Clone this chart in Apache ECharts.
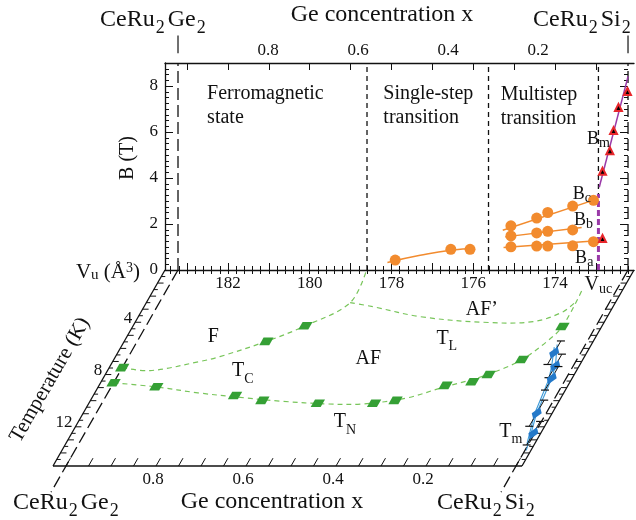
<!DOCTYPE html>
<html>
<head>
<meta charset="utf-8">
<title>CeRu2(Si1-xGex)2 phase diagram</title>
<script src="https://cdn.jsdelivr.net/npm/echarts@6.0.0/dist/echarts.min.js"></script>
<style>
html,body{margin:0;padding:0;background:#fff;}
#chart{width:636px;height:520px;}
</style>
</head>
<body>
<div id="chart"></div>
<script>
// ================= DATA =================
// axis tick labels
const vTickLabels = [174, 176, 178, 180, 182];          // unit-cell volume (Å^3)
const concTickLabels = [0.2, 0.4, 0.6, 0.8];             // Ge concentration x
const tempTickLabels = [4, 8, 12];                       // temperature (K)

// top panel : critical fields B (T) vs. unit-cell volume V (Å^3)
const singleStepPoints = [[177.91, 0.43], [176.55, 0.90], [176.08, 0.90]];
const singleStepFit    = [[178.10, 0.33], [177.30, 0.64], [176.55, 0.86], [175.96, 0.93]];
const bcPoints = [[175.08, 1.92], [174.45, 2.26], [174.18, 2.50], [173.57, 2.78], [173.06, 3.03]];
const bcFit    = [[175.28, 1.73], [173.02, 3.06]];
const bbPoints = [[175.08, 1.48], [174.45, 1.61], [174.18, 1.68], [173.57, 1.74]];
const bbFit    = [[175.22, 1.44], [173.35, 1.85]];
const baPoints = [[175.08, 1.01], [174.45, 1.04], [174.18, 1.04], [173.57, 1.05], [173.06, 1.23]];
const baFit    = [[175.26, 0.98], [172.98, 1.27]];
const bmPoints = [[172.84, 1.37], [172.84, 4.29], [172.66, 5.19], [172.57, 6.06], [172.45, 7.07], [172.23, 7.76]];
const bmFit    = [[172.92, 3.60], [172.215, 8.42]];
const vucValue = 172.94;                                  // critical volume V_uc
const vucLine  = [[172.94, 0], [172.94, 9]];
const vucJump  = [[172.94, 0], [172.94, 3.3]];
const phaseBoundsConc = [0.58, 0.31];                     // Ferro | single-step | multistep
const pureEndsConc = [1, 0];                              // CeRu2Ge2 , CeRu2Si2

// bottom panel : temperature (K) vs. Ge concentration x
const tcPoints = [[1.0, 7.47], [0.713, 5.46], [0.646, 4.27]];
const tnPoints = [[1.0, 8.63], [0.90, 8.93], [0.714, 9.60], [0.647, 9.98], [0.52, 10.2], [0.395, 10.2],
                  [0.351, 9.98], [0.259, 8.83], [0.204, 8.55], [0.177, 8.0], [0.122, 6.85], [0.074, 4.32]];
const tcCurve = [[1.0, 7.47], [0.934, 7.7], [0.835, 7.0], [0.797, 6.63], [0.713, 5.46], [0.646, 4.27], [0.576, 2.5], [0.581, 0]];
const tnCurve = [[1.0, 8.63], [0.90, 8.95], [0.80, 9.4], [0.70, 9.75], [0.60, 10.05], [0.50, 10.25], [0.42, 10.25],
                 [0.33, 9.8], [0.26, 8.95], [0.20, 8.3], [0.15, 7.5], [0.12, 6.8], [0.09, 5.5], [0.074, 4.3], [0.077, 1.4]];
const tlCurve = [[0.576, 2.5], [0.52, 2.81], [0.403, 3.57], [0.255, 4.0], [0.145, 3.95], [0.091, 3.19], [0.076, 2.4]];
const tmPoints = [[0.059, 6.33], [0.040, 7.34], [0.032, 8.29], [0.021, 10.96], [0.003, 12.49]];
const tmErrors = [0.9, 0.9, 0.9, 1.0, 0.9];
const tmLineA = [[0.063, 5.7], [0.040, 7.3], [0.032, 8.3], [0.021, 11.0], [-0.003, 13.8]];
const tmLineB = [[0.066, 5.9], [0.047, 7.4], [0.037, 8.4], [0.025, 11.0], [0.004, 13.3]];

// annotations
const topNotes = [
  ['Ferromagnetic', 182.51, 7.66], ['state', 182.51, 6.62],
  ['Single-step', 178.20, 7.68], ['transition', 178.20, 6.64],
  ['Multistep', 175.33, 7.61], ['transition', 175.33, 6.57]
];
const fieldNotes = [['B{s|m}', 173.22, 5.70], ['B{s|c}', 173.57, 3.29], ['B{s|b}', 173.54, 2.16], ['B{s|a}', 173.51, 0.50]];
const phaseNotes = [
  ['F', 0.837, 5.1], ['T{s|C}', 0.728, 7.73], ['AF', 0.465, 6.76], ['T{s|N}', 0.436, 11.65],
  ['AF\u2019', 0.274, 3.06], ['T{s|L}', 0.316, 5.23], ['T{s|m}', 0.055, 12.37]
];

// ================= LAYOUT / STYLE =================
const V_MIN = 172.07, V_MAX = 183.54;        // volume axis extent (grid edges)
const C_MIN = -0.0133, C_MAX = 1.0289;       // concentration axis extent (same grid edges)
const T_MAX = 15, B_MAX = 9;
const SLANT = 112 / 196;                     // oblique projection of the lower panel
const FONT = '"Liberation Serif", "Times New Roman", serif';
const INK = '#111';
const ORANGE = '#f28b2e', PURPLE = '#9a3aa8', GREEN_L = '#78c55a', GREEN_D = '#35a035', BLUE = '#2479c9';

const RICH_SUB = {
  s: {fontSize: 14, fontFamily: FONT, lineHeight: 14, verticalAlign: 'bottom', fill: INK}
};
const RICH_B = {
  s: {fontSize: 14, fontFamily: FONT, lineHeight: 12, verticalAlign: 'bottom', fill: INK}
};
const RICH_FORMULA = {
  s: {fontSize: 18, fontFamily: FONT, lineHeight: 18, verticalAlign: 'bottom', fill: INK, padding: [0, 3, 0, 1]}
};
const RICH_VU = {
  s: {fontSize: 15, fontFamily: FONT, lineHeight: 14, verticalAlign: 'bottom', fill: INK},
  p: {fontSize: 14, fontFamily: FONT, lineHeight: 14, verticalAlign: 'top', fill: INK}
};

function txt(x, y, s, o) {
  o = o || {};
  return {
    type: 'text',
    style: {
      x: x, y: y, text: s, fill: INK,
      fontSize: o.size || 20, fontFamily: FONT, lineHeight: o.lh || 30,
      align: o.align || 'center', verticalAlign: 'middle', rich: o.rich || RICH_SUB
    }
  };
}
function seg(a, b, style) {
  return {type: 'line', shape: {x1: a[0], y1: a[1], x2: b[0], y2: b[1]},
          style: Object.assign({stroke: INK, lineWidth: 1.2}, style || {})};
}
// maps (concentration, temperature) to the slanted lower panel
function shear(api) {
  const y0 = api.coord([0, 0])[1];
  return function (c, t) {
    const p = api.coord([c, t]);
    return [p[0] - SLANT * (p[1] - y0), p[1]];
  };
}

// ---- tick position lists (axis furniture) ----
const vMajorTicks = [], vMinorTicks = [];
for (let v = 173; v <= 183; v++) vMajorTicks.push(v);
for (let i = 861; i <= 917; i++) vMinorTicks.push(+(i * 0.2).toFixed(2));
const tTicks = [];
for (let i = 1; i < 30; i++) tTicks.push(i * 0.5);
const cTicks = [];
for (let i = 0; i <= 20; i++) cTicks.push(+(i * 0.05).toFixed(2));

// ================= CHART =================
const chart = echarts.init(document.getElementById('chart'), null, {renderer: 'canvas'});

const labelStyle = {fontFamily: FONT, fontSize: 17, color: INK};
const baseX = {
  type: 'value', gridIndex: 0, min: V_MIN, max: V_MAX, inverse: true,
  splitLine: {show: false}, axisLine: {show: false}, axisLabel: {show: false}, axisTick: {show: false}
};

const option = {
  animation: false,
  backgroundColor: '#fff',
  grid: [
    {left: 165, top: 63, width: 469, height: 207},
    {left: 165, top: 270, width: 469, height: 196}
  ],
  xAxis: [
    Object.assign({}, baseX, {
      position: 'bottom',
      axisLine: {show: true, onZero: false, lineStyle: {color: INK, width: 1.3}},
      axisTick: {show: true, inside: true, length: 7, customValues: vMajorTicks, lineStyle: {color: INK}},
      axisLabel: Object.assign({show: true, margin: 5, customValues: vTickLabels}, labelStyle)
    }),
    Object.assign({}, baseX, {
      position: 'bottom',
      axisTick: {show: true, inside: true, length: 4, customValues: vMinorTicks, lineStyle: {color: INK}}
    }),
    Object.assign({}, baseX, {
      position: 'top',
      axisLine: {show: true, onZero: false, lineStyle: {color: INK, width: 1.3}},
      axisTick: {show: true, inside: true, length: 7, customValues: vMajorTicks, lineStyle: {color: INK}}
    }),
    Object.assign({}, baseX, {
      position: 'top',
      axisTick: {show: true, inside: true, length: 4, customValues: vMinorTicks, lineStyle: {color: INK}}
    }),
    {
      type: 'value', gridIndex: 0, position: 'top', min: C_MIN, max: C_MAX, inverse: true,
      splitLine: {show: false}, axisLine: {show: false}, axisTick: {show: false},
      axisLabel: Object.assign({show: true, margin: 4, customValues: concTickLabels}, labelStyle)
    },
    {type: 'value', gridIndex: 1, min: C_MIN, max: C_MAX, inverse: true, show: false}
  ],
  yAxis: [
    {
      type: 'value', gridIndex: 0, min: 0, max: B_MAX, interval: 2, position: 'left',
      splitLine: {show: false},
      axisLine: {show: true, onZero: false, lineStyle: {color: INK, width: 1.3}},
      axisTick: {show: true, inside: true, length: 8, lineStyle: {color: INK}},
      minorTick: {show: true, splitNumber: 8, length: 4, lineStyle: {color: INK}},
      axisLabel: Object.assign({margin: 7, showMaxLabel: false}, labelStyle)
    },
    {
      type: 'value', gridIndex: 0, min: 0, max: B_MAX, interval: 2, position: 'right',
      splitLine: {show: false}, axisLine: {show: false},
      axisTick: {show: true, inside: true, length: 8, lineStyle: {color: INK}},
      minorTick: {show: true, splitNumber: 8, length: 4, lineStyle: {color: INK}},
      axisLabel: {show: false}
    },
    {type: 'value', gridIndex: 1, min: 0, max: T_MAX, inverse: true, show: false}
  ],
  graphic: [
    {type: 'text', x: 100, y: 20, style: {text: 'CeRu{s|2}Ge{s|2}', fontSize: 24, fontFamily: FONT, lineHeight: 34, fill: INK, align: 'left', verticalAlign: 'middle', rich: RICH_FORMULA}},
    {type: 'text', x: 382, y: 15, style: {text: 'Ge concentration x', fontSize: 24, fontFamily: FONT, fill: INK, align: 'center', verticalAlign: 'middle'}},
    {type: 'text', x: 533, y: 20, style: {text: 'CeRu{s|2}Si{s|2}', fontSize: 24, fontFamily: FONT, lineHeight: 34, fill: INK, align: 'left', verticalAlign: 'middle', rich: RICH_FORMULA}},
    {type: 'text', x: 13, y: 503, style: {text: 'CeRu{s|2}Ge{s|2}', fontSize: 24, fontFamily: FONT, lineHeight: 34, fill: INK, align: 'left', verticalAlign: 'middle', rich: RICH_FORMULA}},
    {type: 'text', x: 272, y: 502, style: {text: 'Ge concentration x', fontSize: 24, fontFamily: FONT, fill: INK, align: 'center', verticalAlign: 'middle'}},
    {type: 'text', x: 437, y: 503, style: {text: 'CeRu{s|2}Si{s|2}', fontSize: 24, fontFamily: FONT, lineHeight: 34, fill: INK, align: 'left', verticalAlign: 'middle', rich: RICH_FORMULA}},
    {type: 'text', x: 140, y: 272, style: {text: 'V{s|u} (\u00c5{p|3})', fontSize: 21, fontFamily: FONT, lineHeight: 22, fill: INK, align: 'right', verticalAlign: 'middle', rich: RICH_VU}},
    {type: 'text', x: 128, y: 158, rotation: Math.PI / 2, style: {text: 'B (T)', fontSize: 20, fontFamily: FONT, fill: INK, align: 'center', verticalAlign: 'middle'}},
    {type: 'text', x: 50, y: 380, rotation: 60 * Math.PI / 180, style: {text: 'Temperature (K)', fontSize: 21, fontFamily: FONT, fill: INK, align: 'center', verticalAlign: 'middle'}}
  ],
  series: [
    {type: 'custom', name: 'guides', xAxisIndex: 4, yAxisIndex: 0, clip: false, data: [[0, 0]], z: 1,
      renderItem: function (params, api) {
        const ch = [];
        phaseBoundsConc.forEach(function (c) {
          ch.push(seg(api.coord([c, 0]), api.coord([c, B_MAX]), {lineDash: [5, 4], lineWidth: 1.3}));
        });
        pureEndsConc.forEach(function (c) {
          ch.push(seg(api.coord([c, 0]), api.coord([c, B_MAX]), {lineDash: [12, 5], lineWidth: 1.3}));
          ch.push(seg(api.coord([c, 9.42]), api.coord([c, 10.2]), {lineWidth: 1.2}));
        });
        return {type: 'group', children: ch};
      }
    },
    {type: 'line', name: 'Vuc', xAxisIndex: 0, yAxisIndex: 0, data: vucLine, symbol: 'none', z: 2,
      lineStyle: {color: INK, width: 1.3, type: [5, 4]}},
    {type: 'line', name: 'Vuc jump', xAxisIndex: 0, yAxisIndex: 0, data: vucJump, symbol: 'none', z: 3,
      lineStyle: {color: PURPLE, width: 3, type: [6, 3]}},
    {type: 'line', name: 'single-step fit', xAxisIndex: 0, yAxisIndex: 0, data: singleStepFit, smooth: true, symbol: 'none', z: 3,
      lineStyle: {color: ORANGE, width: 1.5}},
    {type: 'line', name: 'Bc fit', xAxisIndex: 0, yAxisIndex: 0, data: bcFit, symbol: 'none', z: 3, lineStyle: {color: ORANGE, width: 1.5}},
    {type: 'line', name: 'Bb fit', xAxisIndex: 0, yAxisIndex: 0, data: bbFit, symbol: 'none', z: 3, lineStyle: {color: ORANGE, width: 1.5}},
    {type: 'line', name: 'Ba fit', xAxisIndex: 0, yAxisIndex: 0, data: baFit, symbol: 'none', z: 3, lineStyle: {color: ORANGE, width: 1.5}},
    {type: 'line', name: 'Bm fit', xAxisIndex: 0, yAxisIndex: 0, data: bmFit, symbol: 'none', z: 3, lineStyle: {color: PURPLE, width: 1.5}},
    {type: 'scatter', name: 'single-step', xAxisIndex: 0, yAxisIndex: 0, data: singleStepPoints, symbol: 'circle', symbolSize: 11, z: 5, itemStyle: {color: ORANGE, opacity: 1}},
    {type: 'scatter', name: 'Bc', xAxisIndex: 0, yAxisIndex: 0, data: bcPoints, symbol: 'circle', symbolSize: 11, z: 5, itemStyle: {color: ORANGE, opacity: 1}},
    {type: 'scatter', name: 'Bb', xAxisIndex: 0, yAxisIndex: 0, data: bbPoints, symbol: 'circle', symbolSize: 11, z: 5, itemStyle: {color: ORANGE, opacity: 1}},
    {type: 'scatter', name: 'Ba', xAxisIndex: 0, yAxisIndex: 0, data: baPoints, symbol: 'circle', symbolSize: 11, z: 5, itemStyle: {color: ORANGE, opacity: 1}},
    {type: 'scatter', name: 'Bm', xAxisIndex: 0, yAxisIndex: 0, data: bmPoints, symbol: 'triangle', symbolSize: 7, z: 6,
      itemStyle: {color: '#000', borderColor: '#e8262b', borderWidth: 2, opacity: 1}},
    {type: 'custom', name: 'top notes', xAxisIndex: 0, yAxisIndex: 0, clip: false, data: [[V_MAX, 0]], z: 7,
      renderItem: function (params, api) {
        const ch = [];
        topNotes.forEach(function (n) {
          const p = api.coord([n[1], n[2]]);
          ch.push(txt(p[0], p[1], n[0], {size: 20, align: 'left', lh: 24}));
        });
        fieldNotes.forEach(function (n) {
          const p = api.coord([n[1], n[2]]);
          ch.push(txt(p[0], p[1], n[0], {size: 18, align: 'left', lh: 22, rich: RICH_B}));
        });
        const q = api.coord([vucValue, -0.65]);
        ch.push(txt(q[0], q[1], 'V{s|uc}', {size: 20, lh: 22, rich: RICH_B}));
        return {type: 'group', children: ch};
      }
    },
    {type: 'custom', name: 'frame', xAxisIndex: 5, yAxisIndex: 2, clip: false, data: [[0, 0]], z: 1,
      renderItem: function (params, api) {
        const P = shear(api);
        const ch = [];
        ch.push(seg(P(C_MAX, 0), P(C_MAX, T_MAX), {lineWidth: 1.3}));
        ch.push(seg(P(C_MIN, 0), P(C_MIN, T_MAX), {lineWidth: 1.3}));
        ch.push(seg(P(C_MAX, T_MAX), P(C_MIN, T_MAX), {lineWidth: 1.3}));
        tTicks.forEach(function (t) {
          const len = (t % 1 === 0) ? 6 : 4;
          const a = P(C_MAX, t); ch.push(seg(a, [a[0] + len, a[1]], {lineWidth: 1}));
          const b = P(C_MIN, t); ch.push(seg(b, [b[0] - len, b[1]], {lineWidth: 1}));
        });
        tempTickLabels.forEach(function (t) {
          const a = P(C_MAX, t);
          ch.push(txt(a[0] - 3, a[1] - 4, String(t), {size: 17, align: 'right', lh: 20}));
        });
        cTicks.forEach(function (c) { ch.push(seg(P(c, T_MAX), P(c, T_MAX - 0.6), {lineWidth: 1})); });
        concTickLabels.forEach(function (c) {
          const a = P(c, T_MAX);
          ch.push(txt(a[0] - 3, a[1] + 14, String(c), {size: 17, lh: 20}));
        });
        pureEndsConc.forEach(function (c) {
          ch.push(seg(P(c, 0), P(c, 17), {lineDash: [12, 5], lineWidth: 1.3}));
        });
        return {type: 'group', children: ch};
      }
    },
    {type: 'custom', name: 'phase lines', xAxisIndex: 5, yAxisIndex: 2, clip: false, data: [[0, 0]], z: 2,
      renderItem: function (params, api) {
        const P = shear(api);
        const ch = [tcCurve, tnCurve, tlCurve].map(function (curve) {
          return {type: 'polyline', shape: {points: curve.map(function (d) { return P(d[0], d[1]); }), smooth: 0.35},
                  style: {stroke: GREEN_L, lineWidth: 1.2, lineDash: [5, 4], fill: null}};
        });
        [tmLineA, tmLineB].forEach(function (curve) {
          ch.push({type: 'polyline', shape: {points: curve.map(function (d) { return P(d[0], d[1]); })},
                   style: {stroke: '#3f9bd8', lineWidth: 1.1, fill: null}});
        });
        return {type: 'group', children: ch};
      }
    },
    {type: 'custom', name: 'TC/TN points', xAxisIndex: 5, yAxisIndex: 2, clip: false, data: tcPoints.concat(tnPoints), z: 4,
      renderItem: function (params, api) {
        const P = shear(api);
        const p = P(api.value(0), api.value(1));
        const w = 5, h = 3.8;
        const pts = [[-w, -h], [w, -h], [w, h], [-w, h]].map(function (d) { return [p[0] + d[0] - SLANT * d[1], p[1] + d[1]]; });
        return {type: 'polygon', shape: {points: pts}, style: {fill: GREEN_D}};
      }
    },
    {type: 'custom', name: 'Tm points', xAxisIndex: 5, yAxisIndex: 2, clip: false,
      data: tmPoints.map(function (d, i) { return [d[0], d[1], tmErrors[i]]; }), z: 5,
      renderItem: function (params, api) {
        const P = shear(api);
        const c = api.value(0), t = api.value(1), e = api.value(2);
        const p = P(c, t), lo = P(c, t + e), hi = P(c, t - e);
        const ch = [
          seg(lo, hi, {lineWidth: 1}),
          seg([lo[0] - 4, lo[1]], [lo[0] + 4, lo[1]], {lineWidth: 1.2}),
          seg([hi[0] - 4, hi[1]], [hi[0] + 4, hi[1]], {lineWidth: 1.2})
        ];
        const pts = [[0, -6], [5, 0], [0, 6], [-5, 0]].map(function (d) { return [p[0] + d[0] - SLANT * d[1], p[1] + d[1]]; });
        ch.push({type: 'polygon', shape: {points: pts}, style: {fill: BLUE}});
        return {type: 'group', children: ch};
      }
    },
    {type: 'custom', name: 'phase notes', xAxisIndex: 5, yAxisIndex: 2, clip: false, data: [[0, 0]], z: 6,
      renderItem: function (params, api) {
        const P = shear(api);
        return {type: 'group', children: phaseNotes.map(function (n) {
          const p = P(n[1], n[2]);
          return txt(p[0], p[1], n[0], {size: 20, lh: 30});
        })};
      }
    }
  ]
};
chart.setOption(option);
</script>
</body>
</html>
